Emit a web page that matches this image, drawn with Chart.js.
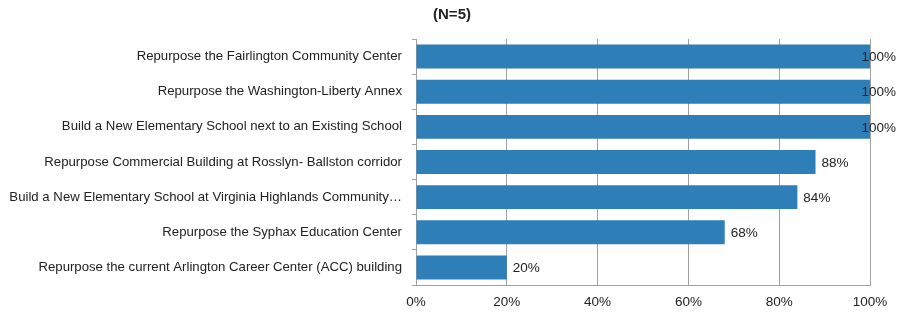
<!DOCTYPE html>
<html>
<head>
<meta charset="utf-8">
<script src="https://cdn.jsdelivr.net/npm/chart.js@4/dist/chart.umd.min.js"></script>
<style>
html,body{margin:0;padding:0;background:#fff;}
#wrap{width:897px;height:314px;position:relative;}
</style>
</head>
<body>
<div id="wrap"><canvas id="c" width="897" height="314"></canvas></div>
<script>
const categories = [
  "Repurpose the Fairlington Community Center",
  "Repurpose the Washington-Liberty Annex",
  "Build a New Elementary School next to an Existing School",
  "Repurpose Commercial Building at Rosslyn- Ballston corridor",
  "Build a New Elementary School at Virginia Highlands Community…",
  "Repurpose the Syphax Education Center",
  "Repurpose the current Arlington Career Center (ACC) building"
];
const values = [100, 100, 100, 88, 84, 68, 20];
const xTicks = [0, 20, 40, 60, 80, 100];
const titleText = "(N=5)";

const FONT = "'Liberation Sans', Arial, sans-serif";

const labelPlugin = {
  id: 'valueLabels',
  afterDatasetsDraw(chart) {
    const ctx = chart.ctx;
    const meta = chart.getDatasetMeta(0);
    ctx.save();
    ctx.font = "13.5px " + FONT;
    ctx.fillStyle = "#222";
    ctx.textBaseline = "middle";
    ctx.textAlign = "left";
    meta.data.forEach((bar, i) => {
      const txt = values[i] + "%";
      const w = ctx.measureText(txt).width;
      let x = bar.x + 6;
      if (x + w > chart.width - 1) x = chart.width - 1 - w;
      ctx.fillText(txt, x, bar.y + 1);
    });
    ctx.restore();
  }
};

const titlePlugin = {
  id: 'customTitle',
  afterDraw(chart) {
    const ctx = chart.ctx;
    ctx.save();
    ctx.font = "bold 15px " + FONT;
    ctx.fillStyle = "#222";
    ctx.textAlign = "center";
    ctx.textBaseline = "middle";
    ctx.fillText(titleText, 452, 15);
    ctx.restore();
  }
};

new Chart(document.getElementById('c'), {
  type: 'bar',
  data: {
    labels: categories,
    datasets: [{
      data: values,
      backgroundColor: '#2E7EB8',
      borderWidth: 0,
      categoryPercentage: 1.0,
      barPercentage: 0.68
    }]
  },
  options: {
    indexAxis: 'y',
    responsive: false,
    animation: false,
    layout: { padding: { left: 0, right: 27, top: 39, bottom: 0 } },
    plugins: {
      legend: { display: false },
      tooltip: { enabled: false },
      title: { display: false }
    },
    scales: {
      x: {
        min: 0, max: 100,
        afterBuildTicks(scale) { scale.ticks = xTicks.map(v => ({ value: v })); },
        afterFit(scale) { scale.height = 29; },
        grid: { color: '#A0A0A0', lineWidth: 1, drawTicks: false },
        border: { display: true, color: '#A0A0A0' },
        ticks: {
          padding: 9,
          color: '#222',
          font: { family: FONT, size: 13.5 },
          callback: v => v + '%'
        }
      },
      y: {
        afterFit(scale) { scale.width = 416; },
        grid: { drawOnChartArea: false, drawTicks: true, tickLength: 4, color: '#A0A0A0', offset: true },
        border: { display: true, color: '#A0A0A0' },
        ticks: {
          padding: 10,
          color: '#222',
          autoSkip: false,
          font: { family: FONT, size: 13.2 }
        }
      }
    }
  },
  plugins: [labelPlugin, titlePlugin]
});
</script>
</body>
</html>
